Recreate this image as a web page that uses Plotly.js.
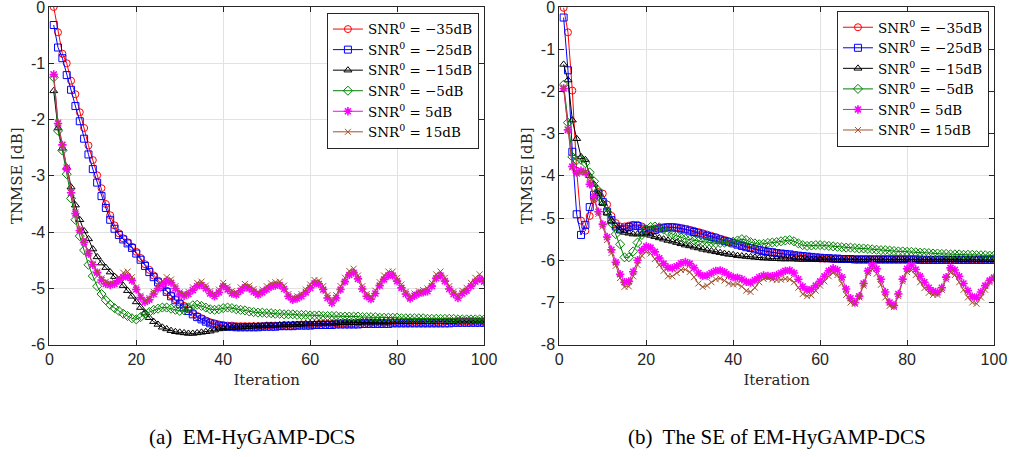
<!DOCTYPE html>
<html>
<head>
<meta charset="utf-8">
<script src="https://cdn.plot.ly/plotly-3.0.1.min.js"></script>
<style>html,body{margin:0;padding:0;background:#fff;}#chart{width:1009px;height:457px;}</style>
</head>
<body>
<div id="chart"></div>
<script>
const iterations = [1,2,3,4,5,6,7,8,9,10,11,12,13,14,15,16,17,18,19,20,21,22,23,24,25,26,27,28,29,30,31,32,33,34,35,36,37,38,39,40,41,42,43,44,45,46,47,48,49,50,51,52,53,54,55,56,57,58,59,60,61,62,63,64,65,66,67,68,69,70,71,72,73,74,75,76,77,78,79,80,81,82,83,84,85,86,87,88,89,90,91,92,93,94,95,96,97,98,99,100];

const seriesNames = ['SNR<sup>0</sup> = \u221235dB','SNR<sup>0</sup> = \u221225dB','SNR<sup>0</sup> = \u221215dB','SNR<sup>0</sup> = \u22125dB','SNR<sup>0</sup> = 5dB','SNR<sup>0</sup> = 15dB'];

const xTickVals = [0,20,40,60,80,100];
const xTickLabels = ['0','20','40','60','80','100'];
const yTickValsA = [-6,-5,-4,-3,-2,-1,0];
const yTickLabelsA = ['-6','-5','-4','-3','-2','-1','0'];
const yTickValsB = [-8,-7,-6,-5,-4,-3,-2,-1,0];
const yTickLabelsB = ['-8','-7','-6','-5','-4','-3','-2','-1','0'];
const captionA = '(a)  EM-HyGAMP-DCS';
const captionB = '(b)  The SE of EM-HyGAMP-DCS';

// (a) EM-HyGAMP-DCS
const redA = [0,-0.45,-0.83,-1.0,-1.31,-1.55,-1.87,-2.15,-2.46,-2.72,
-2.99,-3.22,-3.5,-3.7,-3.88,-4.02,-4.11,-4.18,-4.26,-4.35,
-4.46,-4.57,-4.67,-4.77,-4.86,-4.95,-5.04,-5.12,-5.19,-5.25,
-5.31,-5.37,-5.43,-5.49,-5.53,-5.57,-5.6,-5.62,-5.64,-5.65,
-5.66,-5.66,-5.67,-5.67,-5.67,-5.67,-5.67,-5.67,-5.67,-5.66,
-5.66,-5.66,-5.66,-5.65,-5.65,-5.65,-5.65,-5.64,-5.64,-5.64,
-5.64,-5.63,-5.63,-5.63,-5.63,-5.62,-5.62,-5.62,-5.62,-5.62,
-5.61,-5.61,-5.61,-5.61,-5.61,-5.61,-5.61,-5.6,-5.6,-5.6,
-5.6,-5.6,-5.6,-5.6,-5.6,-5.6,-5.6,-5.6,-5.6,-5.6,
-5.59,-5.59,-5.59,-5.59,-5.59,-5.59,-5.59,-5.59,-5.59,-5.59];
const blueA = [-0.32,-0.72,-0.91,-1.21,-1.47,-1.76,-2.03,-2.34,-2.62,-2.88,
-3.12,-3.36,-3.57,-3.78,-3.94,-4.05,-4.13,-4.2,-4.28,-4.38,
-4.49,-4.6,-4.71,-4.8,-4.89,-4.97,-5.06,-5.14,-5.21,-5.28,
-5.34,-5.4,-5.46,-5.51,-5.55,-5.59,-5.62,-5.64,-5.66,-5.67,
-5.68,-5.68,-5.69,-5.69,-5.69,-5.69,-5.69,-5.69,-5.68,-5.68,
-5.68,-5.68,-5.67,-5.67,-5.67,-5.67,-5.66,-5.66,-5.66,-5.66,
-5.65,-5.65,-5.65,-5.65,-5.65,-5.64,-5.64,-5.64,-5.64,-5.64,
-5.64,-5.63,-5.63,-5.63,-5.63,-5.63,-5.63,-5.63,-5.62,-5.62,
-5.62,-5.62,-5.62,-5.62,-5.62,-5.62,-5.62,-5.62,-5.62,-5.62,
-5.62,-5.62,-5.61,-5.61,-5.61,-5.61,-5.61,-5.61,-5.61,-5.61];
const blackA = [-1.49,-2.15,-2.51,-2.85,-3.2,-3.52,-3.78,-3.98,-4.12,-4.3,
-4.44,-4.55,-4.63,-4.71,-4.79,-4.86,-4.95,-5.04,-5.14,-5.24,
-5.34,-5.44,-5.52,-5.59,-5.64,-5.69,-5.72,-5.75,-5.77,-5.78,
-5.79,-5.8,-5.8,-5.79,-5.78,-5.77,-5.76,-5.74,-5.72,-5.71,
-5.7,-5.7,-5.69,-5.69,-5.68,-5.68,-5.67,-5.67,-5.67,-5.66,
-5.66,-5.66,-5.65,-5.65,-5.65,-5.64,-5.64,-5.64,-5.63,-5.63,
-5.63,-5.63,-5.62,-5.62,-5.62,-5.62,-5.61,-5.61,-5.61,-5.61,
-5.61,-5.6,-5.6,-5.6,-5.6,-5.6,-5.6,-5.6,-5.59,-5.59,
-5.59,-5.59,-5.59,-5.59,-5.59,-5.59,-5.59,-5.59,-5.59,-5.59,
-5.59,-5.59,-5.59,-5.58,-5.58,-5.58,-5.58,-5.58,-5.58,-5.58];
const greenA = [-1.25,-2.2,-2.55,-2.97,-3.4,-3.78,-4.07,-4.32,-4.58,-4.78,
-4.96,-5.1,-5.21,-5.29,-5.35,-5.4,-5.45,-5.49,-5.53,-5.55,
-5.51,-5.45,-5.42,-5.38,-5.36,-5.34,-5.34,-5.36,-5.38,-5.4,
-5.39,-5.34,-5.3,-5.29,-5.31,-5.34,-5.37,-5.38,-5.37,-5.35,
-5.34,-5.35,-5.37,-5.38,-5.39,-5.41,-5.42,-5.43,-5.43,-5.44,
-5.44,-5.45,-5.45,-5.46,-5.46,-5.46,-5.47,-5.47,-5.47,-5.48,
-5.48,-5.48,-5.49,-5.49,-5.49,-5.49,-5.5,-5.5,-5.5,-5.5,
-5.5,-5.51,-5.51,-5.51,-5.51,-5.52,-5.52,-5.52,-5.52,-5.52,
-5.53,-5.53,-5.53,-5.53,-5.53,-5.53,-5.54,-5.54,-5.54,-5.54,
-5.54,-5.54,-5.54,-5.55,-5.55,-5.55,-5.55,-5.55,-5.55,-5.55];
const magentaA = [-1.2,-2.07,-2.45,-2.87,-3.3,-3.67,-3.97,-4.18,-4.38,-4.58,
-4.72,-4.85,-4.92,-4.94,-4.92,-4.86,-4.8,-4.79,-4.86,-5.02,
-5.16,-5.24,-5.2,-5.1,-5.0,-4.93,-4.87,-4.9,-5.0,-5.1,
-5.13,-5.1,-5.03,-4.96,-4.94,-5.0,-5.09,-5.14,-5.07,-4.96,
-5.02,-5.09,-5.11,-5.04,-4.98,-5.0,-5.06,-5.11,-5.07,-5.02,
-4.97,-4.95,-4.94,-5.01,-5.14,-5.2,-5.18,-5.14,-5.07,-4.99,
-4.91,-4.92,-5.02,-5.17,-5.26,-5.17,-5.02,-4.88,-4.76,-4.72,
-4.83,-5.01,-5.14,-5.19,-5.09,-4.95,-4.84,-4.77,-4.77,-4.87,
-4.99,-5.1,-5.18,-5.13,-5.09,-5.07,-5.05,-4.96,-4.82,-4.77,
-4.87,-5.01,-5.1,-5.17,-5.09,-5.04,-4.96,-4.88,-4.83,-4.88];
const brownA = [-1.2,-2.05,-2.45,-2.85,-3.3,-3.65,-3.95,-4.15,-4.35,-4.56,
-4.7,-4.82,-4.88,-4.91,-4.88,-4.8,-4.72,-4.7,-4.8,-4.98,
-5.13,-5.22,-5.17,-5.06,-4.95,-4.87,-4.8,-4.84,-4.96,-5.07,
-5.1,-5.06,-4.98,-4.9,-4.88,-4.95,-5.05,-5.1,-5.02,-4.9,
-4.97,-5.05,-5.07,-4.98,-4.92,-4.95,-5.01,-5.07,-5.02,-4.96,
-4.91,-4.89,-4.88,-4.95,-5.1,-5.16,-5.14,-5.1,-5.02,-4.93,
-4.85,-4.86,-4.96,-5.12,-5.22,-5.12,-4.96,-4.81,-4.69,-4.65,
-4.77,-4.96,-5.1,-5.15,-5.04,-4.89,-4.77,-4.7,-4.7,-4.81,
-4.93,-5.06,-5.15,-5.09,-5.05,-5.03,-5.0,-4.9,-4.75,-4.7,
-4.81,-4.96,-5.06,-5.14,-5.04,-4.99,-4.9,-4.81,-4.75,-4.83];

// (b) The SE of EM-HyGAMP-DCS
const redB = [-0.02,-0.6,-1.98,-3.88,-5.06,-5.3,-4.95,-4.55,-4.38,-4.42,
-4.68,-4.95,-5.12,-5.2,-5.2,-5.18,-5.16,-5.16,-5.2,-5.26,
-5.27,-5.25,-5.23,-5.22,-5.21,-5.21,-5.22,-5.24,-5.26,-5.28,
-5.3,-5.33,-5.36,-5.39,-5.42,-5.45,-5.49,-5.52,-5.55,-5.58,
-5.61,-5.64,-5.67,-5.7,-5.72,-5.75,-5.77,-5.79,-5.81,-5.83,
-5.85,-5.87,-5.88,-5.9,-5.91,-5.92,-5.93,-5.94,-5.95,-5.96,
-5.96,-5.96,-5.97,-5.97,-5.97,-5.97,-5.97,-5.98,-5.98,-5.98,
-5.98,-5.98,-5.98,-5.98,-5.98,-5.98,-5.98,-5.98,-5.98,-5.98,
-5.98,-5.98,-5.98,-5.99,-5.99,-5.99,-5.99,-5.99,-5.99,-5.99,
-5.99,-5.99,-5.99,-5.99,-5.99,-5.99,-5.99,-5.99,-5.99,-5.99];
const blueB = [-0.25,-1.5,-3.43,-4.91,-5.4,-5.16,-4.74,-4.45,-4.42,-4.62,
-4.85,-5.05,-5.2,-5.27,-5.25,-5.21,-5.18,-5.19,-5.25,-5.3,
-5.3,-5.28,-5.25,-5.23,-5.22,-5.22,-5.23,-5.25,-5.27,-5.3,
-5.33,-5.36,-5.39,-5.42,-5.45,-5.48,-5.51,-5.54,-5.57,-5.6,
-5.63,-5.66,-5.69,-5.71,-5.74,-5.76,-5.78,-5.8,-5.81,-5.83,
-5.84,-5.85,-5.86,-5.88,-5.89,-5.9,-5.91,-5.92,-5.93,-5.94,
-5.95,-5.95,-5.96,-5.96,-5.97,-5.97,-5.97,-5.98,-5.98,-5.98,
-5.98,-5.98,-5.98,-5.98,-5.98,-5.98,-5.98,-5.98,-5.98,-5.98,
-5.98,-5.98,-5.99,-5.99,-5.99,-5.99,-5.99,-5.99,-5.99,-5.99,
-5.99,-5.99,-5.99,-5.99,-5.99,-5.99,-5.99,-5.99,-5.99,-5.99];
const blackB = [-1.36,-1.73,-2.68,-3.12,-3.55,-3.62,-4.0,-4.2,-4.42,-4.64,
-4.87,-5.06,-5.19,-5.29,-5.34,-5.36,-5.38,-5.38,-5.38,-5.38,
-5.41,-5.44,-5.47,-5.5,-5.53,-5.55,-5.58,-5.61,-5.64,-5.66,
-5.69,-5.71,-5.74,-5.76,-5.78,-5.8,-5.82,-5.84,-5.86,-5.87,
-5.89,-5.9,-5.91,-5.92,-5.93,-5.94,-5.95,-5.95,-5.96,-5.96,
-5.97,-5.97,-5.97,-5.97,-5.98,-5.98,-5.98,-5.98,-5.98,-5.98,
-5.98,-5.98,-5.98,-5.99,-5.99,-5.99,-5.99,-5.99,-5.99,-5.99,
-5.99,-5.99,-5.99,-5.99,-5.99,-5.99,-5.99,-5.99,-5.99,-5.99,
-5.99,-5.99,-5.99,-5.99,-5.99,-5.99,-5.99,-5.99,-5.99,-5.99,
-5.99,-5.99,-5.99,-5.99,-5.99,-5.99,-5.99,-5.99,-5.99,-5.99];
const greenB = [-1.84,-2.74,-3.55,-3.63,-3.62,-3.7,-3.92,-4.13,-4.35,-4.58,
-4.85,-5.12,-5.38,-5.62,-5.93,-5.93,-5.79,-5.58,-5.4,-5.27,
-5.21,-5.2,-5.22,-5.27,-5.33,-5.38,-5.42,-5.46,-5.49,-5.51,
-5.53,-5.55,-5.56,-5.57,-5.58,-5.6,-5.59,-5.58,-5.57,-5.56,
-5.53,-5.5,-5.52,-5.57,-5.6,-5.62,-5.61,-5.59,-5.58,-5.57,
-5.55,-5.53,-5.52,-5.55,-5.6,-5.64,-5.66,-5.65,-5.64,-5.64,
-5.65,-5.66,-5.67,-5.68,-5.69,-5.7,-5.7,-5.71,-5.72,-5.72,
-5.73,-5.74,-5.75,-5.76,-5.76,-5.77,-5.78,-5.79,-5.79,-5.8,
-5.8,-5.81,-5.82,-5.82,-5.83,-5.84,-5.84,-5.85,-5.85,-5.86,
-5.86,-5.86,-5.87,-5.87,-5.87,-5.88,-5.88,-5.88,-5.89,-5.89];
const magentaB = [-1.93,-2.91,-3.78,-3.92,-3.88,-3.92,-4.2,-4.5,-4.85,-5.15,
-5.45,-5.75,-6.05,-6.33,-6.52,-6.5,-6.27,-6.0,-5.76,-5.67,
-5.7,-5.8,-5.95,-6.08,-6.17,-6.19,-6.14,-6.07,-6.04,-6.08,
-6.18,-6.3,-6.37,-6.36,-6.3,-6.25,-6.24,-6.28,-6.35,-6.4,
-6.41,-6.45,-6.51,-6.53,-6.47,-6.4,-6.36,-6.37,-6.38,-6.35,
-6.3,-6.25,-6.24,-6.3,-6.45,-6.62,-6.7,-6.69,-6.6,-6.5,
-6.38,-6.25,-6.19,-6.23,-6.4,-6.68,-6.9,-7.0,-6.85,-6.55,
-6.25,-6.11,-6.2,-6.45,-6.75,-7.0,-7.07,-6.8,-6.45,-6.2,
-6.11,-6.22,-6.38,-6.52,-6.65,-6.73,-6.76,-6.65,-6.4,-6.18,
-6.23,-6.38,-6.55,-6.72,-6.86,-6.88,-6.75,-6.6,-6.48,-6.41];
const brownB = [-1.9,-2.9,-3.8,-3.95,-3.92,-3.9,-4.05,-4.55,-4.9,-5.2,
-5.52,-5.83,-6.13,-6.42,-6.63,-6.62,-6.38,-6.11,-5.89,-5.8,
-5.84,-5.97,-6.11,-6.25,-6.38,-6.38,-6.3,-6.23,-6.22,-6.28,
-6.4,-6.55,-6.63,-6.6,-6.52,-6.45,-6.43,-6.48,-6.55,-6.57,
-6.56,-6.62,-6.72,-6.75,-6.65,-6.52,-6.44,-6.42,-6.45,-6.47,
-6.46,-6.44,-6.45,-6.52,-6.65,-6.8,-6.85,-6.83,-6.72,-6.6,
-6.5,-6.38,-6.3,-6.35,-6.55,-6.82,-7.0,-7.03,-6.88,-6.6,
-6.3,-6.21,-6.32,-6.58,-6.88,-7.08,-7.11,-6.85,-6.5,-6.28,
-6.24,-6.35,-6.52,-6.66,-6.77,-6.82,-6.82,-6.7,-6.45,-6.29,
-6.35,-6.52,-6.7,-6.88,-7.0,-7.03,-6.88,-6.7,-6.52,-6.43];

const colors = ['#ff0000','#0000ff','#000000','#008000','#ff00ff','#a0522d'];
const symbols = ['circle-open','square-open','triangle-up-open','diamond-open','asterisk-open','x-thin-open'];
const sizes = [7,7,7,7,7,6];

const seriesA = [redA, blueA, blackA, greenA, magentaA, brownA];
const seriesB = [redB, blueB, blackB, greenB, magentaB, brownB];

const traces = [];
function addTraces(series, xa, ya, leg){
  series.forEach((vals, k) => {
    traces.push({
      type:'scatter', mode:'lines+markers',
      x: iterations, y: vals, xaxis: xa, yaxis: ya, legend: leg,
      name: seriesNames[k],
      line:{color: colors[k], width:1},
      marker:{symbol: symbols[k], size: sizes[k], color: colors[k], line:{color: colors[k], width: k===4 ? 1.6 : 1}},
      hoverinfo:'x+y+name'
    });
  });
}
addTraces(seriesA, 'x', 'y', 'legend');
addTraces(seriesB, 'x2', 'y2', 'legend2');

const tickFont = {family:'Liberation Sans, Arial, sans-serif', size:16, color:'#262626'};
const titleFont = {family:'DejaVu Serif, serif', size:15, color:'#262626'};
const axisCommon = {
  showline:true, linecolor:'#262626', linewidth:1, mirror:'ticks',
  ticks:'inside', ticklen:5, tickcolor:'#262626', tickwidth:1,
  showgrid:true, gridcolor:'#e2e2e2', gridwidth:1, zeroline:false,
  tickfont: tickFont, fixedrange:true, ticklabeloverflow:'allow'
};
const legendCommon = {
  font:{family:'DejaVu Serif, serif', size:13.5, color:'#000'},
  bgcolor:'#ffffff', bordercolor:'#262626', borderwidth:1,
  xanchor:'left', yanchor:'top', tracegroupgap:0, itemwidth:30
};

const layout = {
  width:1009, height:457,
  margin:{l:0, r:0, t:0, b:0},
  paper_bgcolor:'#ffffff', plot_bgcolor:'#ffffff',
  showlegend:true,
  xaxis: Object.assign({}, axisCommon, {domain:[0.0489,0.4797], range:[0,100], anchor:'y',
    tickmode:'array', tickvals:xTickVals, ticktext:xTickLabels,
    title:{text:'Iteration', font:titleFont, standoff:7}}),
  yaxis: Object.assign({}, axisCommon, {domain:[0.2457,0.9847], range:[-6,0], anchor:'x',
    tickmode:'array', tickvals:yTickValsA, ticktext:yTickLabelsA,
    title:{text:'TNMSE [dB]', font:titleFont, standoff:4}}),
  xaxis2: Object.assign({}, axisCommon, {domain:[0.5543,0.9851], range:[0,100], anchor:'y2',
    tickmode:'array', tickvals:xTickVals, ticktext:xTickLabels,
    title:{text:'Iteration', font:titleFont, standoff:7}}),
  yaxis2: Object.assign({}, axisCommon, {domain:[0.2457,0.9847], range:[-8,0], anchor:'x2',
    tickmode:'array', tickvals:yTickValsB, ticktext:yTickLabelsB,
    title:{text:'TNMSE [dB]', font:titleFont, standoff:4}}),
  legend: Object.assign({}, legendCommon, {x:0.324, y:0.972}),
  legend2: Object.assign({}, legendCommon, {x:0.8295, y:0.976}),
  annotations:[
    {text:captionA, xref:'paper', yref:'paper', x:0.2507, y:0.0438, xanchor:'center', yanchor:'middle', showarrow:false,
     font:{family:'Liberation Serif, Times New Roman, serif', size:21, color:'#000'}},
    {text:captionB, xref:'paper', yref:'paper', x:0.770, y:0.0438, xanchor:'center', yanchor:'middle', showarrow:false,
     font:{family:'Liberation Serif, Times New Roman, serif', size:21, color:'#000'}}
  ]
};

Plotly.newPlot('chart', traces, layout, {displayModeBar:false, staticPlot:true});
</script>
</body>
</html>
